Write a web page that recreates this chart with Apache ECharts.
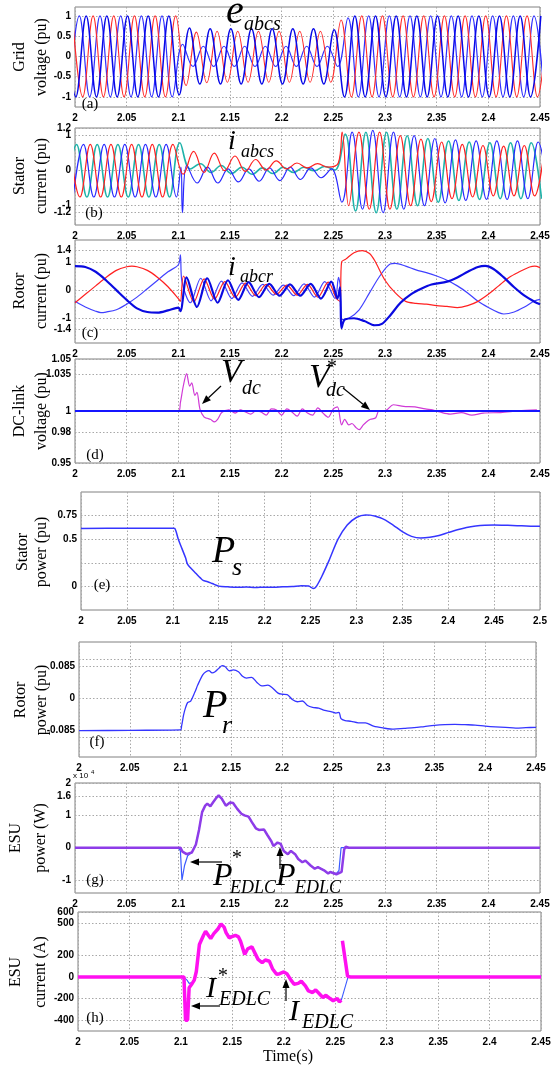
<!DOCTYPE html>
<html><head><meta charset="utf-8">
<script src="https://cdn.jsdelivr.net/npm/echarts@6/dist/echarts.min.js"></script>
<style>html,body{margin:0;padding:0;background:#fff}#c{width:557px;height:1070px}</style>
</head><body><div id="c"></div>
<script>
// ================= DATA =================
// x tick spacing (s)
const xStep = 0.05;
// waveform extrema spacing (half period of 50 Hz)
const HALF = 0.01;

// (a) grid voltages: extrema every HALF starting at given time
const aRedT0 = 1.9975;
const aRed = [1,-1,1,-1,1,-1,1,-1,1,-1,1, -0.72,0.6,-0.65,0.62,-0.64,0.62,-0.64,0.62,-0.64,0.62,-0.64,0.62,-0.64,0.62,-0.64, 0.9,-1,1,-1,1,-1,1,-1,1,-1,1,-1,1,-1,1,-1,1,-1,1,-1,1];
const aBlue1T0 = 1.9908;
const aBlue1 = [1,-1,1,-1,1,-1,1,-1,1,-1,1, -0.95, 0.7,-0.68,0.68,-0.68,0.68,-0.68,0.68,-0.68,0.68,-0.68,0.68,-0.68,0.68,-0.68,0.66, -1,1,-1,1,-1,1,-1,1,-1,1,-1,1,-1,1,-1,1,-1,1,-1,1];
const aBlue2T0 = 1.9942;
const aBlue2 = [-1,1,-1,1,-1,1,-1,1,-1,1,-1, 0.3,-0.25,0.25,-0.25,0.25,-0.25,0.25,-0.25,0.25,-0.25,0.25,-0.25,0.25,-0.25,0.25,-0.25, 0.95,-1,1,-1,1,-1,1,-1,1,-1,1,-1,1,-1,1,-1,1,-1,1,-1];
const aTicks = [-1,-0.5,0,0.5,1];

// (b) stator currents
const bTealT0 = 1.9915;
const bTeal = [-0.75,0.75,-0.75,0.75,-0.75,0.75,-0.75,0.75,-0.75,0.75,-0.75, 0.8, 0.05,0.2,-0.05,0.15,-0.08,0.1,-0.1,0.08,-0.08,0.1,-0.05,0.1,0.0,0.12,0.02, 1.05,-1.15,1.1,-1.2,1.1,-1.1,1.0,-1.0,0.92,-0.9,0.85,-0.85,0.82,-0.82,0.8,-0.8,0.8,-0.8,0.8,-0.8];
const bBlueT0 = 1.9982;
const bBlue = [-0.75,0.75,-0.75,0.75,-0.75,0.75,-0.75,0.75,-0.75,0.75,-0.75, 0.15,-0.35,0.1,-0.35,0.05,-0.32,0.05,-0.3,0.08,-0.28,0.1,-0.25,0.08,-0.2,0.05, -0.9,1.1,-1.1,1.15,-1.2,1.1,-1.1,1.0,-1.0,0.92,-0.92,0.88,-0.85,0.85,-0.82,0.85,-0.82,0.85,-0.8,0.82,-0.8];
const bBlueExtra = [[2.1025,0.1],[2.104,-1.2]];
const bRedT0 = 1.9948;
const bRed = [0.75,-0.75,0.75,-0.75,0.75,-0.75,0.75,-0.75,0.75,-0.75,0.75, -0.1,0.55,-0.05,0.5,0.0,0.42,-0.02,0.32,0.02,0.28,0.05,0.22,0.08,0.2,0.1,0.22, -1.0,1.1,-1.1,1.1,-1.1,1.0,-1.0,0.9,-0.88,0.82,-0.8,0.75,-0.75,0.72,-0.72,0.7,-0.72,0.72,-0.72,0.72];
const bRedExtra = [[2.2585,1.1]];
const bTicks = [-1.2,-1,0,1,1.2];
const bLabelsOuter = [-1.2,0,1.2];
const bLabelsInner = [-1,1];

// (c) rotor currents [t, value]
const cRed = [[2.0,-0.45],[2.01,-0.15],[2.02,0.15],[2.03,0.45],[2.04,0.7],[2.05,0.83],[2.055,0.85],[2.06,0.83],[2.07,0.7],[2.08,0.45],[2.09,0.12],[2.1,-0.3],[2.102,-0.4],
 [2.105,0.5],[2.115,-0.42],[2.125,0.4],[2.135,-0.32],[2.145,0.3],[2.155,-0.26],[2.165,0.25],[2.175,-0.2],[2.185,0.2],[2.195,-0.15],[2.205,0.18],[2.215,-0.18],[2.225,0.2],[2.235,-0.25],[2.245,0.28],[2.253,-0.3],[2.2565,-0.4],
 [2.258,1.0],[2.262,1.1],[2.27,1.33],[2.278,1.4],[2.285,1.3],[2.29,1.05],[2.3,0.35],[2.31,-0.1],[2.32,-0.4],[2.33,-0.47],[2.34,-0.5],[2.35,-0.55],[2.36,-0.58],[2.37,-0.62],[2.38,-0.55],[2.39,-0.4],[2.4,-0.15],[2.41,0.15],[2.42,0.45],[2.43,0.65],[2.44,0.82],[2.445,0.85],[2.45,0.8]];
const cBlue1 = [[2.0,0.85],[2.01,0.82],[2.02,0.65],[2.03,0.35],[2.04,0.0],[2.05,-0.35],[2.06,-0.65],[2.07,-0.78],[2.08,-0.8],[2.09,-0.72],[2.1,-0.62],[2.102,-0.75],
 [2.108,0.45],[2.118,-0.6],[2.128,0.42],[2.138,-0.45],[2.148,0.35],[2.158,-0.35],[2.168,0.28],[2.178,-0.25],[2.188,0.22],[2.198,-0.2],[2.208,0.2],[2.218,-0.2],[2.228,0.22],[2.238,-0.3],[2.248,0.3],[2.254,-0.3],[2.2565,0.1],
 [2.258,-1.35],[2.261,-1.05],[2.27,-1.0],[2.28,-1.1],[2.29,-1.25],[2.297,-1.2],[2.305,-0.9],[2.315,-0.45],[2.325,-0.15],[2.335,0.05],[2.345,0.2],[2.36,0.3],[2.37,0.45],[2.38,0.65],[2.39,0.82],[2.397,0.86],[2.405,0.75],[2.415,0.45],[2.425,0.1],[2.435,-0.2],[2.445,-0.42],[2.45,-0.5]];
const cBlue2 = [[2.0,-0.4],[2.01,-0.6],[2.02,-0.75],[2.025,-0.8],[2.03,-0.78],[2.04,-0.7],[2.05,-0.5],[2.06,-0.25],[2.07,0.05],[2.08,0.35],[2.09,0.65],[2.1,0.9],[2.102,1.25],[2.1035,0.3],
 [2.1117,-0.45],[2.1217,0.42],[2.1317,-0.38],[2.1417,0.32],[2.1517,-0.3],[2.1617,0.26],[2.1717,-0.22],[2.1817,0.2],[2.1917,-0.18],[2.2017,0.18],[2.2117,-0.2],[2.2217,0.22],[2.2317,-0.25],[2.2417,0.3],[2.2517,-0.3],[2.255,0.45],[2.2565,0.2],
 [2.258,-1.05],[2.265,-1.0],[2.275,-0.7],[2.285,-0.1],[2.295,0.5],[2.305,0.93],[2.31,0.95],[2.32,0.85],[2.33,0.72],[2.34,0.62],[2.35,0.5],[2.36,0.35],[2.37,0.15],[2.38,-0.1],[2.39,-0.4],[2.4,-0.62],[2.41,-0.8],[2.415,-0.85],[2.425,-0.78],[2.435,-0.6],[2.445,-0.38],[2.45,-0.33]];
const cTicks = [-1.4,-1,0,1,1.4];

// (d) DC-link voltage
const dVdc = [[2.0,0.9995],[2.05,0.9995],[2.1,0.9995],[2.102,1.008],[2.105,1.025],[2.108,1.036],[2.111,1.024],[2.113,1.027],[2.116,1.015],[2.118,1.018],[2.121,1.0015],[2.125,0.994],[2.128,0.993],[2.131,0.992],[2.135,0.9896],[2.138,0.992],[2.142,0.9985],[2.149,1.001],
 [2.155,0.998],[2.16,1.001],[2.165,0.999],[2.17,0.997],[2.175,1.0],[2.18,0.999],[2.185,0.996],[2.19,1.002],[2.195,1.001],[2.2,0.996],[2.205,1.002],[2.21,0.999],[2.215,0.995],[2.22,1.002],[2.225,0.998],[2.23,0.996],[2.235,1.003],[2.24,0.998],[2.245,0.994],[2.25,1.002],[2.254,1.004],
 [2.258,0.9866],[2.261,0.992],[2.265,0.9866],[2.268,0.988],[2.272,0.984],[2.275,0.982],[2.279,0.9866],[2.282,0.9895],[2.286,0.992],[2.291,0.9935],[2.294,1.0],[2.301,1.0006],[2.308,1.006],[2.318,1.0045],[2.329,1.004],[2.339,1.002],[2.346,1.001],[2.353,0.999],[2.363,0.997],[2.374,0.9985],[2.384,0.996],[2.395,0.998],[2.412,0.9985],[2.429,1.0],[2.447,1.001]];
const dVref = [[2.0,1],[2.45,1]];
const dTicks = [0.95,0.98,1,1.035,1.05];

// (e) stator power
const ePs = [[2.0,0.614],[2.05,0.616],[2.1,0.617],[2.102,0.615],[2.106,0.5],[2.11,0.4],[2.114,0.3],[2.116,0.235],[2.12,0.19],[2.125,0.14],[2.13,0.09],[2.133,0.064],[2.138,0.05],[2.143,0.03],[2.15,0.003],[2.16,-0.005],[2.17,-0.01],[2.18,-0.006],[2.19,-0.012],[2.2,-0.008],[2.21,-0.01],[2.22,-0.004],[2.23,-0.002],[2.24,0.008],[2.248,0.005],[2.253,-0.022],[2.256,-0.005],[2.262,0.1],[2.27,0.27],[2.28,0.5],[2.29,0.65],[2.3,0.73],[2.31,0.757],[2.315,0.755],[2.32,0.745],[2.33,0.71],[2.34,0.65],[2.35,0.58],[2.36,0.53],[2.37,0.512],[2.38,0.52],[2.39,0.54],[2.4,0.57],[2.41,0.6],[2.42,0.625],[2.43,0.64],[2.44,0.648],[2.45,0.65],[2.46,0.648],[2.47,0.645],[2.48,0.642],[2.49,0.638],[2.5,0.636]];
const eTicks = [0,0.25,0.5,0.75];
const eLabels = [0,0.5,0.75];

// (f) rotor power
const fPr = [[2.0,-0.087],[2.05,-0.086],[2.1,-0.085],[2.101,-0.075],[2.103,-0.045],[2.105,-0.025],[2.107,-0.012],[2.11,-0.008],[2.114,0.015],[2.117,0.035],[2.122,0.062],[2.125,0.07],[2.128,0.073],[2.131,0.067],[2.134,0.07],[2.138,0.08],[2.141,0.086],[2.144,0.083],[2.148,0.072],[2.152,0.075],[2.157,0.07],[2.161,0.058],[2.165,0.053],[2.17,0.055],[2.175,0.042],[2.18,0.032],[2.186,0.034],[2.19,0.028],[2.196,0.013],[2.2,0.01],[2.205,0.009],[2.21,-0.004],[2.215,-0.01],[2.22,-0.008],[2.225,-0.02],[2.23,-0.025],[2.236,-0.027],[2.242,-0.033],[2.248,-0.036],[2.253,-0.04],[2.256,-0.038],[2.258,-0.055],[2.262,-0.06],[2.268,-0.062],[2.275,-0.066],[2.282,-0.066],[2.29,-0.075],[2.3,-0.08],[2.31,-0.083],[2.32,-0.081],[2.33,-0.079],[2.34,-0.076],[2.35,-0.073],[2.36,-0.071],[2.37,-0.07],[2.38,-0.071],[2.39,-0.072],[2.4,-0.075],[2.41,-0.077],[2.42,-0.078],[2.43,-0.08],[2.44,-0.079],[2.45,-0.078]];
const fTicks = [-0.104,-0.085,0,0.085,0.104];
const fLabels = [-0.085,0,0.085];

// (g) ESU power (x10^4 W)
const gPref = [[2.0,0],[2.1,0],[2.102,-0.1],[2.1035,-1.0],[2.106,-0.55],[2.109,-0.25],[2.113,-0.15],[2.117,0.1],[2.12,0.55],[2.123,1.1],[2.126,1.3],[2.128,1.35],[2.131,1.28],[2.134,1.42],[2.137,1.55],[2.139,1.6],[2.142,1.5],[2.146,1.3],[2.15,1.4],[2.153,1.37],[2.157,1.2],[2.161,1.05],[2.164,1.0],[2.168,0.95],[2.171,0.8],[2.175,0.6],[2.178,0.55],[2.183,0.55],[2.186,0.4],[2.19,0.2],[2.192,0.06],[2.196,0.15],[2.199,0.12],[2.202,-0.1],[2.206,-0.2],[2.209,-0.1],[2.213,-0.2],[2.216,-0.35],[2.22,-0.45],[2.223,-0.4],[2.228,-0.55],[2.232,-0.65],[2.235,-0.6],[2.241,-0.7],[2.245,-0.8],[2.247,-0.75],[2.253,-0.8],[2.2555,-0.7],[2.2575,0],[2.45,0]];
const gP = [[2.0,0],[2.102,0],[2.104,-0.12],[2.108,-0.2],[2.113,-0.15],[2.117,0.1],[2.12,0.55],[2.123,1.1],[2.126,1.3],[2.128,1.36],[2.131,1.28],[2.134,1.42],[2.137,1.55],[2.139,1.62],[2.142,1.52],[2.146,1.3],[2.15,1.4],[2.153,1.38],[2.157,1.2],[2.161,1.05],[2.164,1.0],[2.168,0.96],[2.171,0.8],[2.175,0.6],[2.178,0.55],[2.183,0.56],[2.186,0.4],[2.19,0.2],[2.192,0.05],[2.196,0.16],[2.199,0.12],[2.202,-0.1],[2.206,-0.2],[2.209,-0.1],[2.213,-0.2],[2.216,-0.35],[2.22,-0.45],[2.223,-0.4],[2.228,-0.55],[2.232,-0.65],[2.235,-0.6],[2.241,-0.7],[2.245,-0.8],[2.247,-0.75],[2.253,-0.82],[2.258,-0.75],[2.2605,-0.05],[2.262,0.03],[2.265,0],[2.45,0]];
const gTicks = [-1,0,1,1.6,2];

// (h) ESU current (A)
const hIref = [[2.0,0],[2.1025,0],[2.106,-30],[2.108,-60],[2.111,-50],[2.113,-20],[2.115,50],[2.118,300],[2.122,385],[2.124,415],[2.127,385],[2.129,360],[2.132,400],[2.136,440],[2.139,485],[2.142,460],[2.144,420],[2.147,380],[2.149,375],[2.153,385],[2.156,370],[2.158,330],[2.162,230],[2.165,262],[2.169,275],[2.172,225],[2.175,170],[2.179,140],[2.182,160],[2.186,148],[2.189,80],[2.193,30],[2.196,32],[2.2,46],[2.203,30],[2.207,-30],[2.21,-65],[2.214,-58],[2.217,-45],[2.221,-83],[2.224,-128],[2.228,-142],[2.231,-122],[2.235,-158],[2.238,-188],[2.241,-172],[2.245,-198],[2.248,-218],[2.252,-202],[2.254,-225],[2.256,-212],[2.2625,0],[2.45,0]];
const hI = [[2.0,0],[2.103,0],[2.1045,-400],[2.1065,-400],[2.108,-100],[2.111,-60],[2.113,-30],[2.115,50],[2.118,300],[2.122,385],[2.124,422],[2.127,380],[2.129,355],[2.132,400],[2.136,443],[2.139,490],[2.142,460],[2.144,407],[2.147,361],[2.149,370],[2.153,385],[2.156,370],[2.158,330],[2.162,208],[2.165,260],[2.169,278],[2.172,220],[2.175,162],[2.179,131],[2.182,156],[2.186,145],[2.189,76],[2.193,24],[2.196,30],[2.2,46],[2.203,30],[2.207,-30],[2.21,-67],[2.214,-60],[2.217,-40],[2.221,-83],[2.224,-130],[2.228,-144],[2.231,-120],[2.235,-160],[2.238,-190],[2.241,-170],[2.245,-200],[2.248,-220],[2.252,-200],[2.254,-230],[2.256,-215],[2.2565,'-'],[2.257,335],[2.262,5],[2.265,0],[2.45,0]];
const hTicks = [-400,-200,0,200,500,600];

// ================= CHART =================
function wave(t0, vals, extra) {
  const d = vals.map((v, i) => [+(t0 + i * HALF).toFixed(4), v]);
  if (extra) extra.forEach(p => d.push(p));
  d.sort((p, q) => p[0] - q[0]);
  return d;
}

const panels = [
  {left:75, top:7,   width:465, height:100, xmax:2.45, ymin:-1.25, ymax:1.22,  ticks:aTicks, labels:aTicks},
  {left:75, top:128, width:465, height:97,  xmax:2.45, ymin:-1.55, ymax:1.22,  ticks:bTicks, labels:bLabelsOuter, labels2:bLabelsInner},
  {left:75, top:240, width:465, height:103, xmax:2.45, ymin:-1.88, ymax:1.78,  ticks:cTicks, labels:cTicks},
  {left:75, top:359, width:465, height:104, xmax:2.45, ymin:0.95,  ymax:1.05,  ticks:dTicks, labels:dTicks},
  {left:81, top:492, width:459, height:118, xmax:2.5,  ymin:-0.25, ymax:1.0,   ticks:eTicks, labels:eLabels},
  {left:79, top:642, width:457, height:115, xmax:2.45, ymin:-0.157,ymax:0.149, ticks:fTicks, labels:fLabels},
  {left:75, top:783, width:465, height:110, xmax:2.45, ymin:-1.4,  ymax:2,     ticks:gTicks, labels:gTicks},
  {left:78, top:912, width:463, height:119, xmax:2.45, ymin:-500,  ymax:600,   ticks:hTicks, labels:hTicks}
];

const labelFont = {fontSize:10, fontWeight:'bold', fontFamily:'"Liberation Sans", Arial, sans-serif', color:'#000'};
const gridLine = {color:'#a8a8a8', type:[1.5,2], width:1};

const grids = [], xAxes = [], yAxes = [], extraY = [];
panels.forEach((p, i) => {
  grids.push({left:p.left, top:p.top, width:p.width, height:p.height, show:true, borderColor:'#808080', borderWidth:1, containLabel:false});
  xAxes.push({gridIndex:i, type:'value', min:2, max:p.xmax, interval:xStep,
    axisLine:{show:false}, axisTick:{show:false},
    splitLine:{show:true, lineStyle:gridLine},
    axisLabel:Object.assign({margin:6, hideOverlap:false, showMinLabel:true, showMaxLabel:true, formatter:v=>String(+v.toFixed(2))}, labelFont)});
  yAxes.push({gridIndex:i, type:'value', min:p.ymin, max:p.ymax, position:'left',
    axisLine:{show:false}, axisTick:{show:false, customValues:p.ticks},
    splitLine:{show:true, lineStyle:gridLine},
    axisLabel:Object.assign({margin:4, hideOverlap:false, showMinLabel:true, showMaxLabel:true, customValues:p.labels, formatter:v=>String(v)}, labelFont)});
  if (p.labels2) {
    extraY.push({gridIndex:i, type:'value', min:p.ymin, max:p.ymax, position:'left', offset:0,
      axisLine:{show:false}, axisTick:{show:false, customValues:p.labels2},
      splitLine:{show:false},
      axisLabel:Object.assign({margin:4, hideOverlap:false, showMinLabel:true, showMaxLabel:true, customValues:p.labels2, formatter:v=>String(v)}, labelFont)});
  }
});

function line(gi, data, color, width, smooth, z) {
  return {type:'line', xAxisIndex:gi, yAxisIndex:gi, data:data, smooth:smooth || false, symbol:'none', silent:true,
    lineStyle:{color:color, width:width}, z:z || 2, animation:false};
}

const series = [
  line(0, wave(aBlue2T0, aBlue2), '#2f2fff', 1.2, 0.4),
  line(0, wave(aRedT0, aRed), '#ff2b2b', 1.1, 0.4),
  line(0, wave(aBlue1T0, aBlue1), '#0808e8', 1.5, 0.4),
  line(1, wave(bTealT0, bTeal), '#1fb3aa', 1.6, 0.4),
  line(1, wave(bBlueT0, bBlue, bBlueExtra), '#2828ff', 1.2, 0.4),
  line(1, wave(bRedT0, bRed, bRedExtra), '#ff2020', 1.2, 0.4),
  line(2, cBlue2, '#4040ff', 1.2, 0.3),
  line(2, cRed, '#ff2020', 1.2, 0.3),
  line(2, cBlue1, '#0a0ae0', 2.2, 0.3),
  line(3, dVdc, '#d03ad6', 1.2, 0.3),
  line(3, dVref, '#1515ff', 2),
  line(4, ePs, '#3535ff', 1.5, 0.3),
  line(5, fPr, '#3535ff', 1.3, 0.3),
  line(6, gPref, '#3a5aff', 1.2),
  line(6, gP, '#8e3ce8', 2.5, false, 3),
  line(7, hIref, '#3a5aff', 1.1),
  line(7, hI, '#ff10f0', 3.5, false, 3)
];

// ---------- annotations ----------
const serif = '"Liberation Serif", "Times New Roman", serif';
function txt(x, y, s, size, opts) {
  opts = opts || {};
  return {type:'text', x:x, y:y, rotation:opts.rot || 0, silent:true, z:100,
    style:{text:s, fill:'#000', font:(opts.italic === false ? '' : 'italic ') + size + 'px ' + (opts.family || serif),
      textAlign:opts.align || 'left', align:opts.align || 'left', textVerticalAlign:'middle', verticalAlign:'middle'}};
}
function yname(x, y, s) { return txt(x, y, s, 16, {rot:Math.PI/2, align:'center', italic:false}); }
function arrow(x1, y1, x2, y2) {
  const a = Math.atan2(y2 - y1, x2 - x1), L = 9, Wd = 3.5;
  const bx = x2 - L * Math.cos(a), by = y2 - L * Math.sin(a);
  const px = -Math.sin(a) * Wd, py = Math.cos(a) * Wd;
  return [
    {type:'line', silent:true, z:100, shape:{x1:x1, y1:y1, x2:bx, y2:by}, style:{stroke:'#000', lineWidth:1.2}},
    {type:'polygon', silent:true, z:100, shape:{points:[[x2,y2],[bx+px,by+py],[bx-px,by-py]]}, style:{fill:'#000'}}
  ];
}

const graphics = [
  // y axis names
  yname(20, 57, 'Grid'), yname(42, 57, 'voltage (pu)'),
  yname(20, 176, 'Stator'), yname(42, 176, 'current (pu)'),
  yname(20, 291, 'Rotor'), yname(42, 291, 'current (pu)'),
  yname(20, 411, 'DC-link'), yname(42, 411, 'voltage (pu)'),
  yname(23, 552, 'Stator'), yname(42, 552, 'power (pu)'),
  yname(21, 700, 'Rotor'), yname(42, 700, 'power (pu)'),
  yname(16, 838, 'ESU'), yname(41, 838, 'power (W)'),
  yname(16, 972, 'ESU'), yname(41, 972, 'current (A)'),
  // panel letters
  txt(90, 104, '(a)', 15, {align:'center', italic:false}),
  txt(94, 213, '(b)', 15, {align:'center', italic:false}),
  txt(90, 333, '(c)', 15, {align:'center', italic:false}),
  txt(95, 455, '(d)', 15, {align:'center', italic:false}),
  txt(102, 585, '(e)', 15, {align:'center', italic:false}),
  txt(97, 742, '(f)', 15, {align:'center', italic:false}),
  txt(95, 880, '(g)', 15, {align:'center', italic:false}),
  txt(95, 1018, '(h)', 15, {align:'center', italic:false}),
  // x10 exponent marker
  txt(73, 776, 'x 10', 8, {italic:false, family:'"Liberation Sans", Arial'}),
  txt(91, 772, '4', 6, {italic:false, family:'"Liberation Sans", Arial'}),
  // Time label
  txt(288, 1057, 'Time(s)', 16, {align:'center', italic:false}),
  // symbols
  txt(226, 12, 'e', 40), txt(244, 25, 'abcs', 20),
  txt(228, 142, 'i', 28), txt(241, 152, 'abcs', 18),
  txt(228, 268, 'i', 28), txt(240, 277, 'abcr', 18),
  txt(221, 373, 'V', 34), txt(242, 389, 'dc', 20),
  txt(309, 378, 'V', 34), txt(326, 368, '*', 20), txt(326, 391, 'dc', 20),
  txt(212, 552, 'P', 38), txt(232, 568, 's', 26),
  txt(203, 706, 'P', 40), txt(222, 726, 'r', 26),
  txt(213, 877, 'P', 32), txt(231, 859, '*', 20), txt(230, 888, 'EDLC', 18),
  txt(276, 877, 'P', 32), txt(295, 888, 'EDLC', 18)
  ,txt(206, 989, 'I', 30), txt(217, 977, '*', 20), txt(219, 1000, 'EDLC', 20),
  txt(289, 1012, 'I', 30), txt(302, 1023, 'EDLC', 20)
].concat(
  arrow(221, 386, 202, 404),
  arrow(343, 388, 370, 410),
  arrow(222, 862, 190, 862),
  arrow(280, 869, 280, 847),
  arrow(220, 1006, 191, 1006),
  arrow(286, 1001, 286, 979)
);

const chart = echarts.init(document.getElementById('c'), null, {renderer:'canvas'});
chart.setOption({
  animation:false,
  backgroundColor:'#fff',
  grid:grids, xAxis:xAxes, yAxis:yAxes.concat(extraY), series:series, graphic:graphics
});
</script></body></html>
